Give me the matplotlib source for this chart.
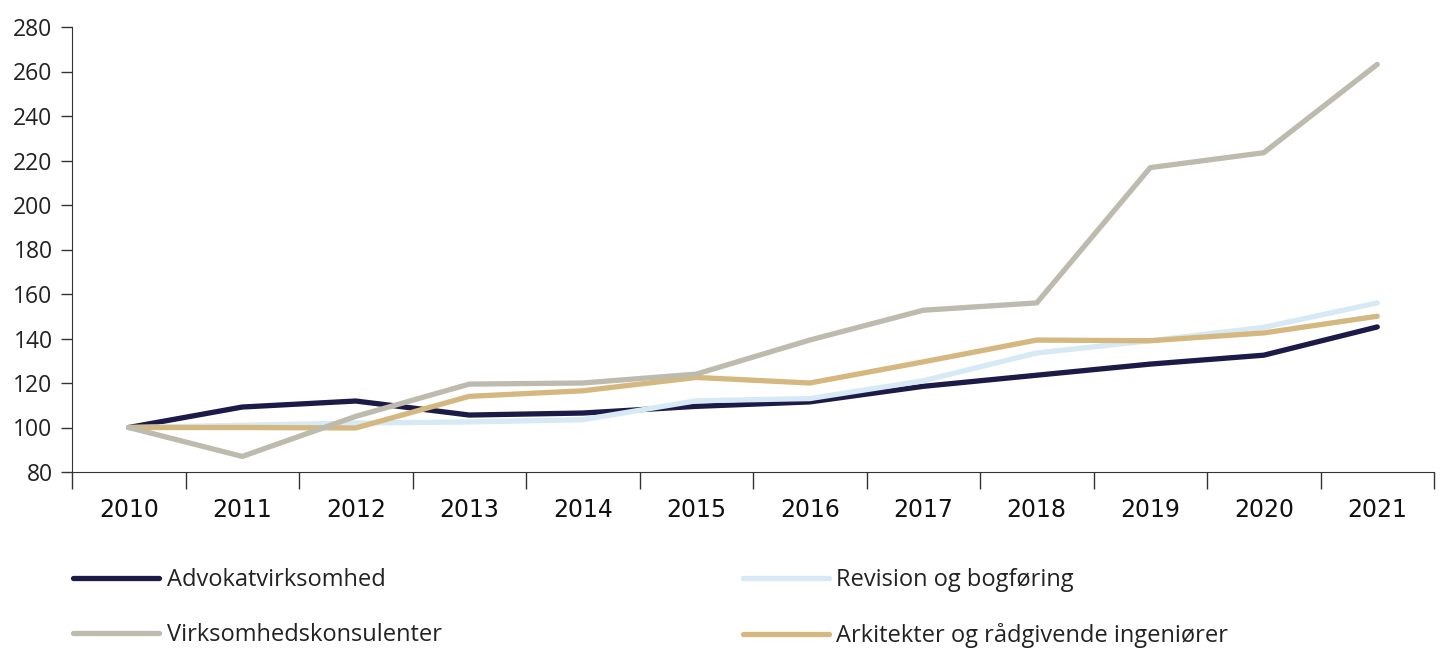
import matplotlib.pyplot as plt
from matplotlib.ticker import FixedLocator, NullFormatter

years = ["2010", "2011", "2012", "2013", "2014", "2015", "2016", "2017", "2018", "2019", "2020", "2021"]
advokat = [100, 109.2, 111.9, 105.6, 106.5, 109.5, 111.5, 118.5, 123.5, 128.5, 132.5, 145.2]
revision = [100, 101, 102, 102.5, 103.5, 112, 113, 121, 133.5, 139, 145, 156]
konsulenter = [100, 87, 105, 119.5, 120, 124, 139.3, 152.7, 156, 216.8, 223.5, 263.2]
arkitekter = [100, 100, 99.8, 114, 116.5, 122.5, 120, 129.5, 139.3, 139, 142.5, 150]

series = [
    ("Advokatvirksomhed", advokat, "#1c1a47"),
    ("Revision og bogføring", revision, "#d6e9f4"),
    ("Virksomhedskonsulenter", konsulenter, "#bdbaae"),
    ("Arkitekter og rådgivende ingeniører", arkitekter, "#d5b87f"),
]

fig = plt.figure(figsize=(14.45, 6.48), dpi=100)
ax = fig.add_axes([72 / 1445, 1 - 472 / 648, (1434 - 72) / 1445, (472 - 27) / 648])

x = list(range(len(years)))
handles = {}
for i in [0, 1, 3, 2]:
    name, vals, col = series[i]
    ln, = ax.plot(x, vals, color=col, lw=3.8, solid_capstyle="round",
                  solid_joinstyle="round", label=name)
    handles[i] = ln

ax.set_xlim(-0.5, len(years) - 0.5)
ax.set_ylim(80, 280)
ax.set_yticks(range(80, 281, 20))
ax.tick_params(axis="y", direction="out", length=8, width=1, color="#333333",
               labelsize=16.5, pad=6, labelcolor="#222222")
for lbl in ax.get_yticklabels():
    lbl.set_fontfamily("Open Sans")

ax.set_xticks(x)
ax.set_xticklabels(years, fontfamily=["Liberation Sans Narrow", "DejaVu Sans"],
                   fontsize=17, color="#111111")
ax.tick_params(axis="x", which="major", length=0, pad=19)
ax.xaxis.set_minor_locator(FixedLocator([i - 0.5 for i in range(len(years) + 1)]))
ax.xaxis.set_minor_formatter(NullFormatter())
ax.tick_params(axis="x", which="minor", direction="out", length=12, width=1, color="#333333")

for s in ["top", "right"]:
    ax.spines[s].set_visible(False)
ax.spines["left"].set_color("#333333")
ax.spines["bottom"].set_color("#333333")

# legend fills column by column
leg_order = [0, 2, 1, 3]
leg = fig.legend([handles[i] for i in leg_order], [series[i][0] for i in leg_order],
                 loc="upper left", bbox_to_anchor=(52 / 1445, 1 - 547 / 648),
                 ncol=2, frameon=False, handlelength=3.65, handletextpad=0.3,
                 columnspacing=12.75, labelspacing=1.32,
                 prop={"family": "Open Sans", "size": 17})
for t in leg.get_texts():
    t.set_color("#222222")

fig.savefig("out.png", dpi=100)
